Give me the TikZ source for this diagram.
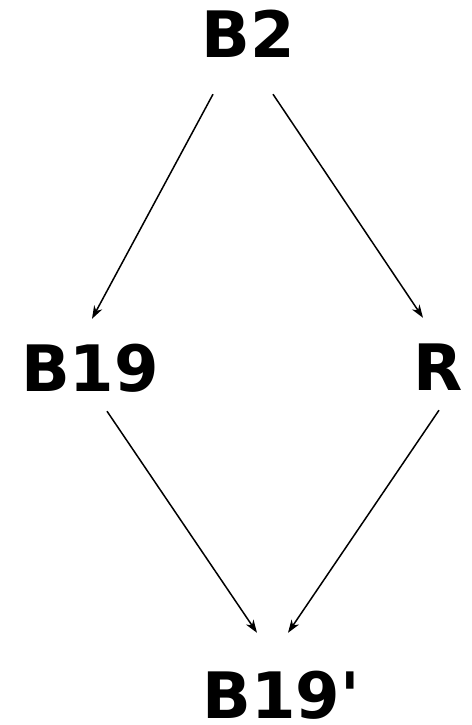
\documentclass[tikz,border=0pt]{standalone}
\usepackage{fontspec}
\setmainfont{DejaVu Sans}
\usepackage{tikz}
\usetikzlibrary{positioning, arrows.meta}

\tikzset{
  grp/.style={font=\fontsize{64}{64}\selectfont\bfseries, anchor=base,
    inner sep=0pt, text height=47pt, text depth=0pt},
  cov/.style={-{Stealth[length=13pt, width=9pt, inset=4pt]}, line width=1.5pt}
}

\begin{document}
\begin{tikzpicture}[x=1pt, y=-1pt]
  \useasboundingbox (0,0) rectangle (471,725);

  % ── groups ──
  \node[grp] (b2)   at (248,58)  {B2};
  \node[grp] (b19)  at (90,391)  {B19};
  \node[grp] (r)    at (438,390) {R};
  \node[grp] (b19p) at (281,718) {B19\textquotesingle};

  % ── arrows ──
  \draw[cov] ([shift={(-35,36)}]b2.south) -- ([shift={(2,-25)}]b19.north);
  \draw[cov] ([shift={(25,36)}]b2.south)  -- ([shift={(-15,-25)}]r.north);
  \draw[cov] ([shift={(17,20)}]b19.south) -- ([shift={(-24,-38)}]b19p.north);
  \draw[cov] ([shift={(1,20)}]r.south)    -- ([shift={(7,-38)}]b19p.north);
\end{tikzpicture}
\end{document}
